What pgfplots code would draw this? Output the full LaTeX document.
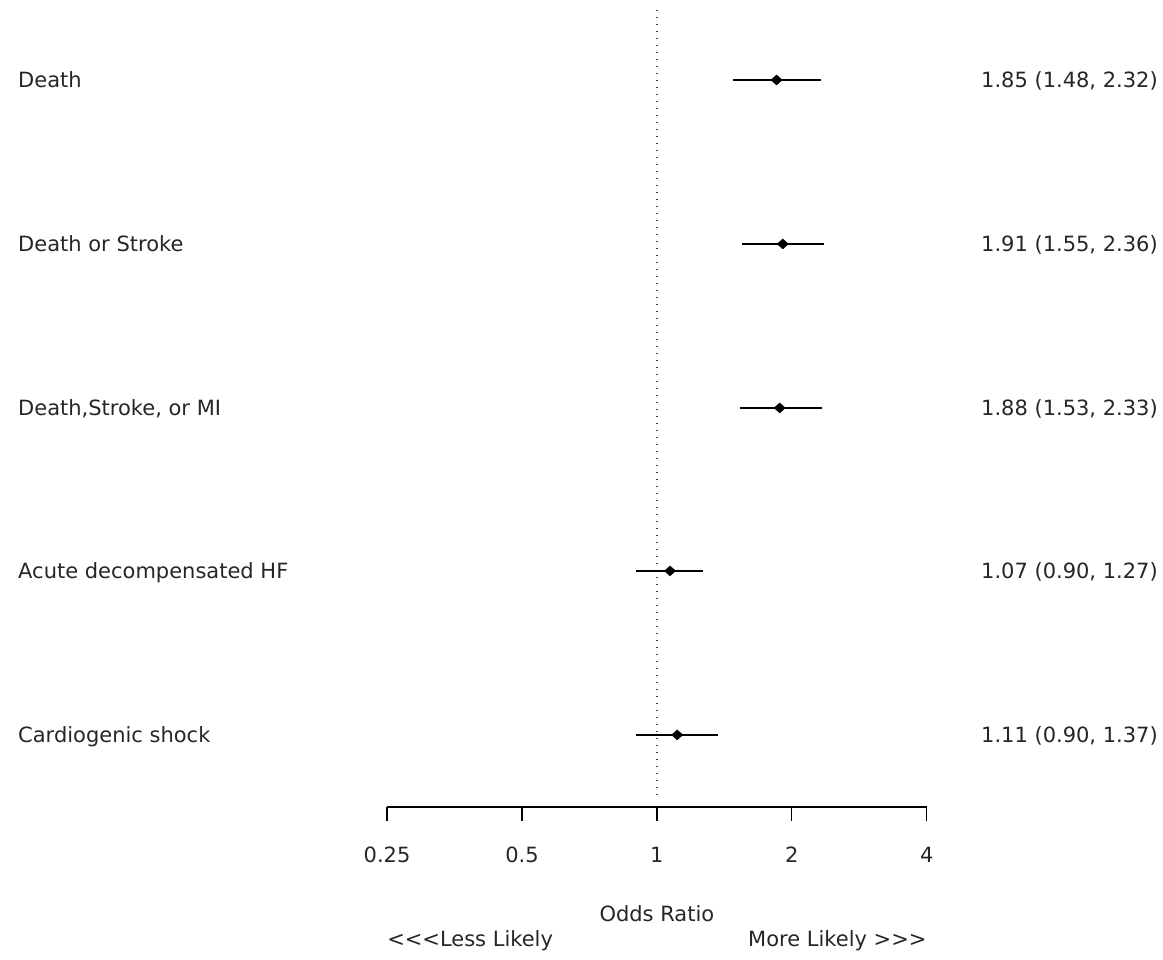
\documentclass[border=0pt]{standalone}
\usepackage{pgfplots}
\usepackage{pgfplotstable}
\pgfplotsset{compat=1.18}
\usepackage{fontspec}
\setmainfont{DejaVu Sans}[Ligatures=TeXOff]
\newcommand\fnt{\fontsize{21}{25}\selectfont}

\pgfplotstableread{
y or lo hi
880 1.85 1.48 2.32
716 1.91 1.55 2.36
552 1.88 1.53 2.33
389 1.07 0.90 1.27
225 1.11 0.90 1.37
}\data

\begin{document}
\begin{tikzpicture}
\begin{axis}[
  scale only axis,
  width=539.7pt, height=807pt,
  xmode=log, log basis x=2,
  xmin=0.25, xmax=4,
  ymin=153, ymax=960,
  clip=false,
  axis x line*=bottom,
  axis y line=none,
  axis line style={-, line width=1.3pt, black},
  xtick={0.25,0.5,1,2,4},
  xticklabels={0.25,0.5,1,2,4},
  xminorticks=false,
  tick align=outside,
  major tick length=14pt,
  every tick/.style={black, line width=1.3pt},
  tick label style={font=\fnt, text=black!85},
  xticklabel style={anchor=base, yshift=-42pt},
  /pgf/number format/assume math mode=true,
]
% zero line
\addplot[black!75, line width=1.3pt, dash pattern=on 1.3pt off 5.7pt] coordinates {(1,950) (1,160)};
% confidence intervals
\addplot[black, line width=1.6pt, unbounded coords=jump] table {
x y
1.48 880
2.32 880
nan nan
1.55 716
2.36 716
nan nan
1.53 552
2.33 552
nan nan
0.90 389
1.27 389
nan nan
0.90 225
1.37 225
};
% point estimates
\addplot[only marks, mark=diamond*, mark size=5pt, mark options={black, fill=black, xscale=1.5}] table[x=or, y=y] {\data};

% row labels
\begin{scope}[every node/.style={font=\fnt, text=black!85, inner sep=0pt}]
\node[anchor=base west] at (axis cs:0.03754,872.5) {Death};
\node[anchor=base west] at (axis cs:0.03754,708.5) {Death or Stroke};
\node[anchor=base west] at (axis cs:0.03754,544.5) {Death,Stroke, or MI};
\node[anchor=base west] at (axis cs:0.03754,381.5) {Acute decompensated HF};
\node[anchor=base west] at (axis cs:0.03754,217.5) {Cardiogenic shock};
\node[anchor=base east] at (axis cs:13.13,872.5) {1.85 (1.48, 2.32)};
\node[anchor=base east] at (axis cs:13.13,708.5) {1.91 (1.55, 2.36)};
\node[anchor=base east] at (axis cs:13.13,544.5) {1.88 (1.53, 2.33)};
\node[anchor=base east] at (axis cs:13.13,381.5) {1.07 (0.90, 1.27)};
\node[anchor=base east] at (axis cs:13.13,217.5) {1.11 (0.90, 1.37)};
\node[anchor=base] at (axis cs:1,38) {Odds Ratio};
\node[anchor=base west] at (axis cs:0.25,13) {<<<Less Likely};
\node[anchor=base east] at (axis cs:4,13) {More Likely >>>};
\end{scope}
\coordinate (bl) at (axis cs:0.03422,0);
\coordinate (tr) at (axis cs:13.47,960);
\end{axis}
\pgfresetboundingbox
\path[use as bounding box] (bl) rectangle (tr);
\end{tikzpicture}
\end{document}
